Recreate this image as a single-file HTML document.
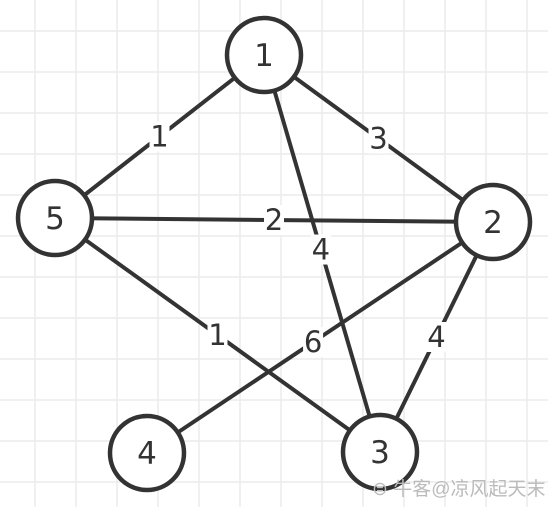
<!DOCTYPE html>
<html><head><meta charset="utf-8"><style>
html,body{margin:0;padding:0;background:#fff;}
svg{display:block;}
</style></head><body>
<svg width="548" height="507" viewBox="0 0 548 507">
<g id="grid"></g>
<g id="edges"></g>
<g id="nodes"></g>
<text x="372" y="495" font-family="Liberation Sans, Noto Sans CJK SC, sans-serif" font-size="19" fill="#bbb">⊜ 牛客@凉风起天末</text>
</svg>
<script>
const nodeIds=['1','2','3','4','5'];
const nodeX=[264,493,380,147,55];
const nodeY=[55,222,452,453,218];
const edgeFrom=['1','1','5','1','2','5','2'];
const edgeTo=['5','2','2','3','4','3','3'];
const edgeWeights=['1','3','2','4','6','1','4'];
const edgeLabelT=[0.5,0.5,0.5,0.49,0.52,0.5,0.5];
const NS='http://www.w3.org/2000/svg';
const grid=document.getElementById('grid');
for(let x=35;x<548;x+=41){const l=document.createElementNS(NS,'line');l.setAttribute('x1',x);l.setAttribute('x2',x);l.setAttribute('y1',0);l.setAttribute('y2',507);l.setAttribute('stroke','#ececec');l.setAttribute('stroke-width','1.5');

grid.appendChild(l);}
for(let y=31;y<507;y+=41){const l=document.createElementNS(NS,'line');l.setAttribute('y1',y);l.setAttribute('y2',y);l.setAttribute('x1',0);l.setAttribute('x2',548);l.setAttribute('stroke','#ececec');l.setAttribute('stroke-width','1.5');

grid.appendChild(l);}
function pos(id){const i=nodeIds.indexOf(id);return [nodeX[i],nodeY[i]];}
const eg=document.getElementById('edges');
edgeFrom.forEach((f,i)=>{const a=pos(f),b=pos(edgeTo[i]);
const l=document.createElementNS(NS,'line');l.setAttribute('x1',a[0]);l.setAttribute('y1',a[1]);l.setAttribute('x2',b[0]);l.setAttribute('y2',b[1]);l.setAttribute('stroke','#333');l.setAttribute('stroke-width','4');

eg.appendChild(l);});
edgeFrom.forEach((f,i)=>{const a=pos(f),b=pos(edgeTo[i]);const t=edgeLabelT[i];
const x=a[0]+(b[0]-a[0])*t,y=a[1]+(b[1]-a[1])*t;
const r=document.createElementNS(NS,'rect');r.setAttribute('x',x-10);r.setAttribute('y',y-15);r.setAttribute('width',20);r.setAttribute('height',30);r.setAttribute('fill','#fff');

eg.appendChild(r);
const tx=document.createElementNS(NS,'text');tx.setAttribute('x',x);tx.setAttribute('y',y+10);tx.setAttribute('text-anchor','middle');tx.setAttribute('font-family','DejaVu Sans, sans-serif');tx.setAttribute('font-size','29');tx.setAttribute('fill','#333');tx.textContent=edgeWeights[i];

eg.appendChild(tx);});
const ng=document.getElementById('nodes');
nodeIds.forEach((id,i)=>{const c=document.createElementNS(NS,'circle');c.setAttribute('cx',nodeX[i]);c.setAttribute('cy',nodeY[i]);c.setAttribute('r',37);c.setAttribute('fill','#fff');c.setAttribute('stroke','#333');c.setAttribute('stroke-width','4.5');

ng.appendChild(c);
const tx=document.createElementNS(NS,'text');tx.setAttribute('x',nodeX[i]);tx.setAttribute('y',nodeY[i]+11);tx.setAttribute('text-anchor','middle');tx.setAttribute('font-family','DejaVu Sans, sans-serif');tx.setAttribute('font-size','31');tx.setAttribute('fill','#333');tx.textContent=id;

ng.appendChild(tx);});
</script>
</body></html>
